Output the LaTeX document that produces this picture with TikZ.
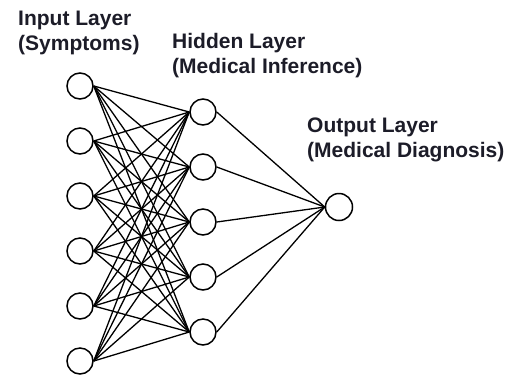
\documentclass[tikz,border=0pt]{standalone}
\usepackage{fontspec}
\setmainfont{Liberation Sans}
\definecolor{labelcol}{RGB}{28,28,40}
\begin{document}
\begin{tikzpicture}[x=1pt,y=-1pt,
  neuron/.style={circle,draw=black,line width=1.5pt,minimum size=26pt,inner sep=0pt,fill=white},
  link/.style={draw=black,line width=1.3pt},
  layerlabel/.style={anchor=base west,align=left,inner sep=0pt,text=labelcol,
    font=\fontsize{21}{24.5}\selectfont\bfseries}]
\useasboundingbox (0,0) rectangle (510,376);
% input layer
\foreach \i/\y in {1/86,2/141,3/196,4/251,5/306,6/361}
  \node[neuron] (in\i) at (80,\y) {};
% hidden layer
\foreach \j/\y in {1/112,2/167,3/222,4/277,5/332}
  \node[neuron] (hid\j) at (203,\y) {};
% output layer
\node[neuron,minimum size=27pt] (out) at (339,207) {};
% connections
\foreach \i in {1,...,6}
  \foreach \j in {1,...,5}
    \draw[link] (in\i.east) -- (hid\j.west);
\foreach \j in {1,...,5}
  \draw[link] (hid\j.east) -- (out.west);
% labels (anchor is the baseline of the last line)
\node[layerlabel] (lin) at (18,50) {Input Layer\\(Symptoms)};
\node[layerlabel] (lhid) at (172,73) {Hidden Layer\\(Medical Inference)};
\node[layerlabel] (lout) at (307,157) {Output Layer\\(Medical Diagnosis)};
\end{tikzpicture}
\end{document}
